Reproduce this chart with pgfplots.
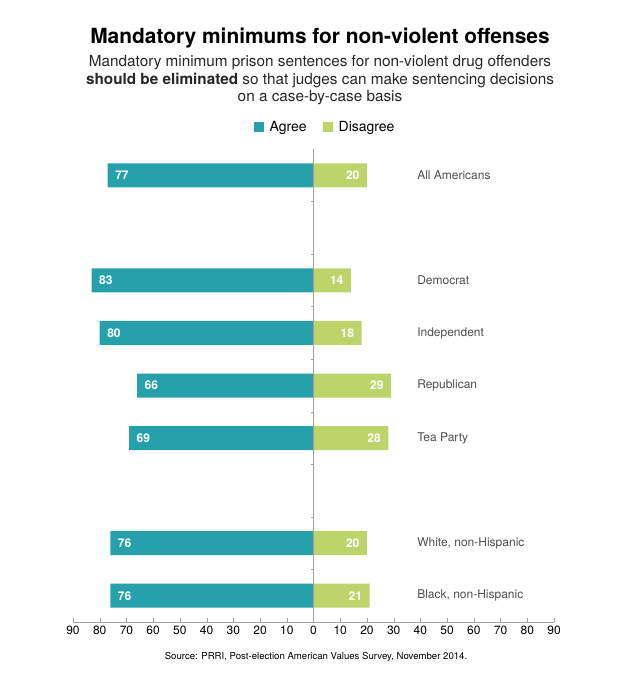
\documentclass[border=0pt]{standalone}
\usepackage{pgfplots}
\pgfplotsset{compat=1.18}
\usepackage{fontspec}
\setmainfont{TeX Gyre Heros}
\definecolor{agree}{HTML}{26A0AA}
\definecolor{disagree}{HTML}{BDD46B}
\definecolor{lbl}{HTML}{4D4D4D}
\definecolor{axgray}{HTML}{A0A0A0}
\begin{document}
\begin{tikzpicture}
\path (-73pt,-66pt) rectangle (567pt,622pt);
\begin{axis}[
  scale only axis, width=481pt, height=473pt,
  xmin=-90, xmax=90, ymin=-0.5, ymax=8.5,
  axis x line=bottom, axis y line=none,
  x axis line style={draw=axgray, -},
  xtick={-90,-80,...,90},
  xticklabels={90,80,70,60,50,40,30,20,10,0,10,20,30,40,50,60,70,80,90},
  major tick length=4pt, tick align=inside, tick style={draw=axgray},
  xticklabel style={font=\fontsize{12}{12}\selectfont, text=black},
  /pgf/number format/assume math mode=true,
  ytick=\empty,
  xbar, bar width=24pt, bar shift=0pt,
  point meta=explicit,
  clip=false,
  legend style={at={(0.524,1)}, anchor=center, yshift=22pt, draw=none,
    font=\fontsize{14}{14}\selectfont, legend columns=2,
    /tikz/every even column/.append style={column sep=14pt}},
  legend image code/.code={\fill[#1] (0pt,-5pt) rectangle (10pt,5pt); \path (0pt,0pt) -- (14pt,0pt);},
]
\addplot[fill=agree, draw=none, nodes near coords,
  every node near coord/.append style={anchor=west, xshift=4pt, text=white, font=\bfseries\fontsize{12}{12}\selectfont}]
  coordinates {(-77,8)[77] (-83,6)[83] (-80,5)[80] (-66,4)[66] (-69,3)[69] (-76,1)[76] (-76,0)[76]};
\addlegendentry{Agree}
\addplot[fill=disagree, draw=none, nodes near coords,
  every node near coord/.append style={anchor=east, xshift=-4pt, text=white, font=\bfseries\fontsize{12}{12}\selectfont}]
  coordinates {(20,8)[20] (14,6)[14] (18,5)[18] (29,4)[29] (28,3)[28] (20,1)[20] (21,0)[21]};
\addlegendentry{Disagree}
\draw[axgray] (axis cs:0,-0.5) -- (axis cs:0,8.5);
\pgfplotsinvokeforeach{0.5,1.5,2.5,3.5,4.5,5.5,6.5,7.5}{
  \draw[axgray] (axis cs:0,#1) -- ++(-3pt,0pt);
}
\begin{scope}[every node/.style={anchor=west, text=lbl, font=\fontsize{12}{12}\selectfont}]
\node at (axis cs:37.5,8) {All Americans};
\node at (axis cs:37.5,6) {Democrat};
\node at (axis cs:37.5,5) {Independent};
\node at (axis cs:37.5,4) {Republican};
\node at (axis cs:37.5,3) {Tea Party};
\node at (axis cs:37.5,1) {White, non-Hispanic};
\node at (axis cs:37.5,0) {Black, non-Hispanic};
\end{scope}
\end{axis}
\node[font=\bfseries\fontsize{20.9}{22}\selectfont] at (247pt,584pt) {Mandatory minimums for non-violent offenses};
\node[font=\fontsize{15.3}{17.5}\selectfont, text=black!85, align=center, anchor=north] at (247pt,570pt)
  {Mandatory minimum prison sentences for non-violent drug offenders\\
   \textbf{should be eliminated} so that judges can make sentencing decisions\\
   on a case-by-case basis};
\node[font=\fontsize{9.6}{10}\selectfont] at (243pt,-35pt) {Source: PRRI, Post-election American Values Survey, November 2014.};
\end{tikzpicture}
\end{document}
